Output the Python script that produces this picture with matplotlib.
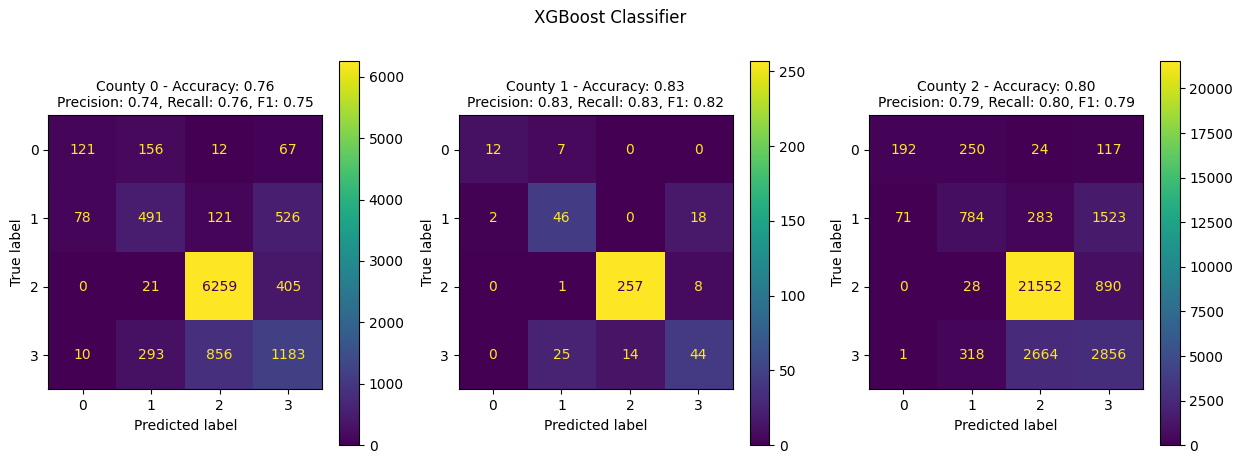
import numpy as np
import matplotlib
matplotlib.use("Agg")
import matplotlib.pyplot as plt

# ---------- data ----------
class_labels = ["0", "1", "2", "3"]

cm_county0 = [[121, 156, 12, 67],
              [78, 491, 121, 526],
              [0, 21, 6259, 405],
              [10, 293, 856, 1183]]
cm_county1 = [[12, 7, 0, 0],
              [2, 46, 0, 18],
              [0, 1, 257, 8],
              [0, 25, 14, 44]]
cm_county2 = [[192, 250, 24, 117],
              [71, 784, 283, 1523],
              [0, 28, 21552, 890],
              [1, 318, 2664, 2856]]

accuracy = [0.76, 0.83, 0.80]
precision = [0.74, 0.83, 0.79]
recall = [0.76, 0.83, 0.80]
f1 = [0.75, 0.82, 0.79]

matrices = [cm_county0, cm_county1, cm_county2]

# ---------- layout (pixels in a 1242x463 figure) ----------
W, H = 1242, 463
panel_left = [48.3, 458.7, 869.0]
mat_size = 274.0
mat_bottom = 389.3
cbar_offset = 291.0
cbar_w = 19.7
cbar_top, cbar_bottom = 60.7, 445.3


def draw_cm(fig, ax, cax, cm, title):
    cm = np.asarray(cm)
    cmap = plt.get_cmap("viridis")
    im = ax.imshow(cm, interpolation="nearest", cmap=cmap)
    cmap_min, cmap_max = im.cmap(0), im.cmap(1.0)
    thresh = (cm.max() + cm.min()) / 2.0
    for i in range(cm.shape[0]):
        for j in range(cm.shape[1]):
            color = cmap_max if cm[i, j] < thresh else cmap_min
            ax.text(j, i, format(cm[i, j], "d"), ha="center", va="center", color=color)
    fig.colorbar(im, cax=cax)
    n = len(class_labels)
    ax.set(xticks=np.arange(n), yticks=np.arange(n),
           xticklabels=class_labels, yticklabels=class_labels,
           xlabel="Predicted label", ylabel="True label")
    ax.set_ylim((n - 0.5, -0.5))
    ax.set_title(title, fontsize=10)


fig = plt.figure(figsize=(W / 100, H / 100), dpi=100)
for k, cm in enumerate(matrices):
    x0 = panel_left[k]
    ax = fig.add_axes([x0 / W, (H - mat_bottom) / H, mat_size / W, mat_size / H])
    cax = fig.add_axes([(x0 + cbar_offset) / W, (H - cbar_bottom) / H,
                        cbar_w / W, (cbar_bottom - cbar_top) / H])
    title = (f"County {k} - Accuracy: {accuracy[k]:.2f}\n"
             f"Precision: {precision[k]:.2f}, Recall: {recall[k]:.2f}, F1: {f1[k]:.2f}")
    draw_cm(fig, ax, cax, cm, title)

# the original was cropped tight, so the suptitle sits a little left of centre
fig.suptitle("XGBoost Classifier", fontsize=12, x=609.7 / W, y=1 - 18 / H, va="center")
fig.savefig("out.png", dpi=100)
